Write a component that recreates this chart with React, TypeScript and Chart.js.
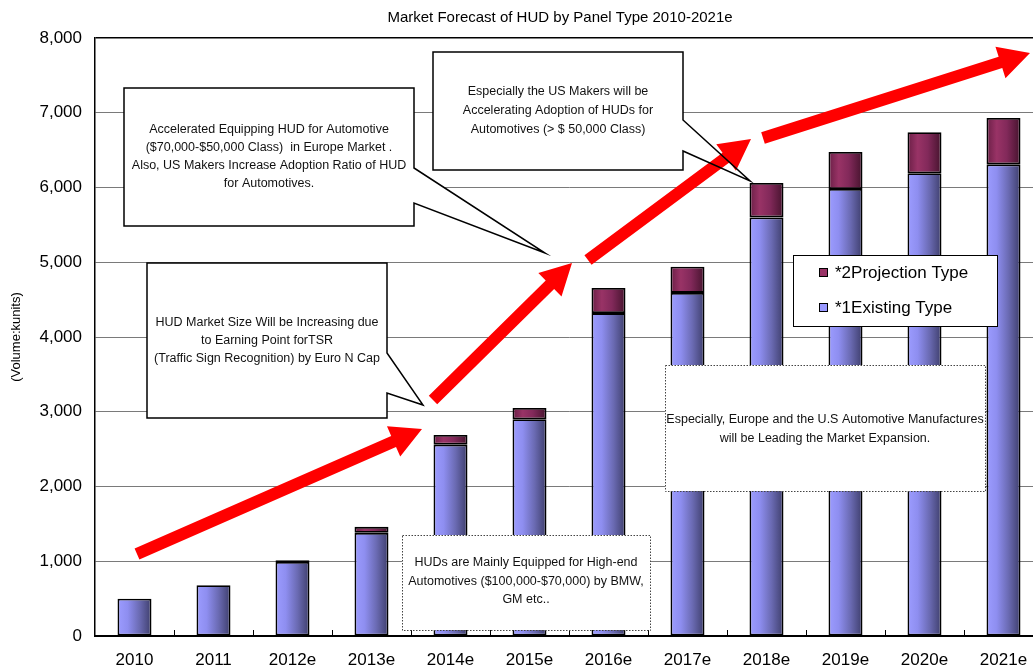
import React, { useEffect, useRef } from "react";
import { Chart, registerables } from "chart.js";

Chart.register(...registerables);

const FONT = "'Liberation Sans', Arial, Helvetica, sans-serif";

// ---------- data ----------
const categories = ["2010", "2011", "2012e", "2013e", "2014e", "2015e", "2016e", "2017e", "2018e", "2019e", "2020e", "2021e"];
const existingType = [500, 680, 990, 1380, 2560, 2900, 4320, 4590, 5600, 5980, 6190, 6310];
const projectionType = [null, null, 25, 80, 130, 150, 335, 350, 460, 495, 550, 620];
const yTickStep = 1000;
const yMax = 8000;
const chartTitle = "Market Forecast of HUD by Panel Type 2010-2021e";
const yAxisTitle = "(Volume:kunits)";
const existingName = "*1Existing Type";
const projectionName = "*2Projection Type";

// ---------- annotations (overlay) ----------
const calloutA = [
  "Accelerated Equipping HUD for Automotive",
  "($70,000-$50,000 Class)  in Europe Market .",
  "Also, US Makers Increase Adoption Ratio of HUD",
  "for Automotives.",
];
const calloutB = [
  "Especially the US Makers will be",
  "Accelerating Adoption of HUDs for",
  "Automotives (> $ 50,000 Class)",
];
const calloutC = [
  "HUD Market Size Will be Increasing due",
  "to Earning Point forTSR",
  "(Traffic Sign Recognition) by Euro N Cap",
];
const noteD = [
  "HUDs are Mainly Equipped for High-end",
  "Automotives ($100,000-$70,000) by BMW,",
  "GM etc..",
];
const noteE = [
  "Especially, Europe and the U.S Automotive Manufactures",
  "will be Leading the Market Expansion.",
];

const BAR_FRACTION = 0.43;

const existingStops: [number, string][] = [
  [0, "#9c9cff"],
  [0.3, "#8e8ef0"],
  [0.65, "#6a6ab2"],
  [1, "#3e3e6c"],
];
const projectionStops: [number, string][] = [
  [0, "#6a1f46"],
  [0.3, "#993366"],
  [0.6, "#82295a"],
  [1, "#45132d"],
];

function gradientFor(stops: [number, string][]) {
  return (c: any) => {
    const chart = c.chart;
    const xs = chart.scales && chart.scales.x;
    if (!xs || c.dataIndex === undefined || !xs.width) return stops[1][1];
    const cx = xs.getPixelForValue(c.dataIndex);
    const half = ((xs.width / categories.length) * BAR_FRACTION) / 2;
    const g = chart.ctx.createLinearGradient(cx - half, 0, cx + half, 0);
    stops.forEach(([o, col]) => g.addColorStop(o, col));
    return g;
  };
}

function polygon(ctx: CanvasRenderingContext2D, pts: number[][]) {
  ctx.beginPath();
  ctx.moveTo(pts[0][0], pts[0][1]);
  for (let i = 1; i < pts.length; i++) ctx.lineTo(pts[i][0], pts[i][1]);
  ctx.closePath();
}

function arrowPts(tail: number[], tip: number[], w: number, hl: number, hw: number) {
  const dx = tip[0] - tail[0];
  const dy = tip[1] - tail[1];
  const L = Math.hypot(dx, dy);
  const ux = dx / L, uy = dy / L;
  const nx = -uy, ny = ux;
  const bx = tip[0] - ux * hl, by = tip[1] - uy * hl;
  return [
    [tail[0] + nx * w / 2, tail[1] + ny * w / 2],
    [bx + nx * w / 2, by + ny * w / 2],
    [bx + nx * hw, by + ny * hw],
    [tip[0], tip[1]],
    [bx - nx * hw, by - ny * hw],
    [bx - nx * w / 2, by - ny * w / 2],
    [tail[0] - nx * w / 2, tail[1] - ny * w / 2],
  ];
}

function drawLines(ctx: CanvasRenderingContext2D, lines: string[], cx: number, ys: number[], size: number) {
  ctx.save();
  ctx.fillStyle = "#111";
  ctx.font = `${size}px ${FONT}`;
  ctx.textAlign = "center";
  ctx.textBaseline = "middle";
  lines.forEach((t, i) => ctx.fillText(t, cx, ys[i]));
  ctx.restore();
}

const overlay = {
  id: "overlay",
  afterDatasetsDraw(chart: any) {
    const ctx: CanvasRenderingContext2D = chart.ctx;
    const xs = chart.scales.x;
    const area = chart.chartArea;
    ctx.save();

    // small inside ticks at category boundaries
    ctx.strokeStyle = "#000";
    ctx.lineWidth = 1;
    const step = xs.width / categories.length;
    for (let i = 1; i < categories.length; i++) {
      const x = Math.round(area.left + step * i) + 0.5;
      ctx.beginPath();
      ctx.moveTo(x, area.bottom);
      ctx.lineTo(x, area.bottom - 6);
      ctx.stroke();
    }

    // dotted notes
    const dotted = (r: number[], lines: string[], cx: number, ys: number[]) => {
      ctx.save();
      ctx.fillStyle = "#fff";
      ctx.fillRect(r[0], r[1], r[2] - r[0], r[3] - r[1]);
      ctx.setLineDash([1.5, 1.5]);
      ctx.strokeStyle = "#444";
      ctx.lineWidth = 1;
      ctx.strokeRect(r[0] + 0.5, r[1] + 0.5, r[2] - r[0], r[3] - r[1]);
      ctx.restore();
      drawLines(ctx, lines, cx, ys, 12.5);
    };
    dotted([402, 535, 650, 630], noteD, 526, [563, 582, 600]);
    dotted([665, 365, 985, 491], noteE, 825, [420, 439]);

    // legend
    ctx.save();
    ctx.fillStyle = "#fff";
    ctx.fillRect(793, 255, 204, 71);
    ctx.strokeStyle = "#000";
    ctx.lineWidth = 1;
    ctx.strokeRect(793.5, 255.5, 204, 71);
    const legendItems = [
      { name: projectionName, color: "#993366", y: 272 },
      { name: existingName, color: "#9999ff", y: 307 },
    ];
    ctx.font = `17px ${FONT}`;
    ctx.textBaseline = "middle";
    ctx.textAlign = "left";
    legendItems.forEach((it) => {
      ctx.fillStyle = it.color;
      ctx.fillRect(819, it.y - 4, 9, 9);
      ctx.strokeStyle = "#000";
      ctx.strokeRect(819.5, it.y - 3.5, 8, 8);
      ctx.fillStyle = "#000";
      ctx.fillText(it.name, 835, it.y + 1);
    });
    ctx.restore();

    // callouts
    const callouts = [
      { pts: [[124, 88], [414, 88], [414, 168], [545, 253], [414, 203], [414, 226], [124, 226]], lines: calloutA, cx: 269, ys: [130, 148, 166, 184] },
      { pts: [[433, 52], [683, 52], [683, 120], [750, 181], [683, 151], [683, 170], [433, 170]], lines: calloutB, cx: 558, ys: [92, 111, 130] },
      { pts: [[147, 263], [387, 263], [387, 353], [423, 405], [387, 393], [387, 418], [147, 418]], lines: calloutC, cx: 267, ys: [323, 341, 359] },
    ];
    callouts.forEach((c) => {
      ctx.save();
      ctx.fillStyle = "#fff";
      polygon(ctx, c.pts);
      ctx.fill();
      ctx.restore();
    });

    // red arrows
    const arrows = [
      { tail: [137, 554], tip: [422, 429] },
      { tail: [433, 400], tip: [572, 263] },
      { tail: [588, 260], tip: [751, 139] },
      { tail: [763, 138], tip: [1030, 53] },
    ];
    ctx.save();
    ctx.fillStyle = "#ff0000";
    arrows.forEach((a) => {
      polygon(ctx, arrowPts(a.tail, a.tip, 12, 31, 16.5));
      ctx.fill();
    });
    ctx.restore();

    callouts.forEach((c) => {
      ctx.save();
      ctx.strokeStyle = "#000";
      ctx.lineWidth = 1.5;
      ctx.lineJoin = "miter";
      polygon(ctx, c.pts);
      ctx.stroke();
      ctx.restore();
      drawLines(ctx, c.lines, c.cx, c.ys, 12.5);
    });

    ctx.restore();
  },
  afterDraw(chart: any) {
    const ctx: CanvasRenderingContext2D = chart.ctx;
    ctx.save();
    ctx.fillStyle = "#000";
    ctx.font = `15px ${FONT}`;
    ctx.textAlign = "center";
    ctx.textBaseline = "middle";
    ctx.fillText(chartTitle, 560, 18);
    ctx.restore();
  },
};

export default function App() {
  const canvasRef = useRef<HTMLCanvasElement | null>(null);

  useEffect(() => {
    if (!canvasRef.current) return;
    const chart = new Chart(canvasRef.current, {
      type: "bar",
      data: {
        labels: categories,
        datasets: [
          {
            label: existingName,
            data: existingType,
            backgroundColor: gradientFor(existingStops) as any,
            borderColor: "#000",
            borderWidth: 1.8,
            borderSkipped: false,
            barPercentage: BAR_FRACTION,
            categoryPercentage: 1,
            stack: "s",
          },
          {
            label: projectionName,
            data: projectionType as any,
            backgroundColor: gradientFor(projectionStops) as any,
            borderColor: "#000",
            borderWidth: 1.8,
            borderSkipped: false,
            barPercentage: BAR_FRACTION,
            categoryPercentage: 1,
            stack: "s",
          },
        ],
      },
      options: {
        responsive: false,
        animation: false,
        devicePixelRatio: 1,
        layout: { padding: { top: 38, right: 25, left: 0, bottom: 0 } },
        plugins: {
          legend: { display: false },
          title: { display: false },
          tooltip: { enabled: false },
        },
        scales: {
          x: {
            stacked: true,
            grid: { display: false, drawTicks: false },
            border: { display: true, color: "#000", width: 2 },
            ticks: {
              color: "#000",
              font: { family: FONT, size: 17 },
              padding: 14,
              maxRotation: 0,
              autoSkip: false,
            },
            afterFit: (s: any) => {
              s.height = 35;
            },
          },
          y: {
            stacked: true,
            min: 0,
            max: yMax,
            ticks: {
              stepSize: yTickStep,
              color: "#000",
              font: { family: FONT, size: 17 },
              padding: 13,
              callback: (v: any) => Number(v).toLocaleString("en-US"),
            },
            grid: {
              color: (c: any) => (c.tick && c.tick.value === yMax ? "#000" : "#7a7a7a"),
              lineWidth: (c: any) => (c.tick && c.tick.value === yMax ? 1.5 : 1),
              drawTicks: false,
            },
            border: { color: "#000", width: 1.5 },
            title: {
              display: true,
              text: yAxisTitle,
              color: "#000",
              font: { family: FONT, size: 13 },
              padding: { top: 9, bottom: 0 },
            },
            afterFit: (s: any) => {
              s.width = 95;
            },
          },
        },
      },
      plugins: [overlay],
    });
    return () => chart.destroy();
  }, []);

  return (
    <div style={{ position: "fixed", left: 0, top: 0, width: 1033, height: 671, overflow: "hidden", background: "#fff" }}>
      <canvas ref={canvasRef} width={1068} height={671} style={{ display: "block" }} />
    </div>
  );
}
